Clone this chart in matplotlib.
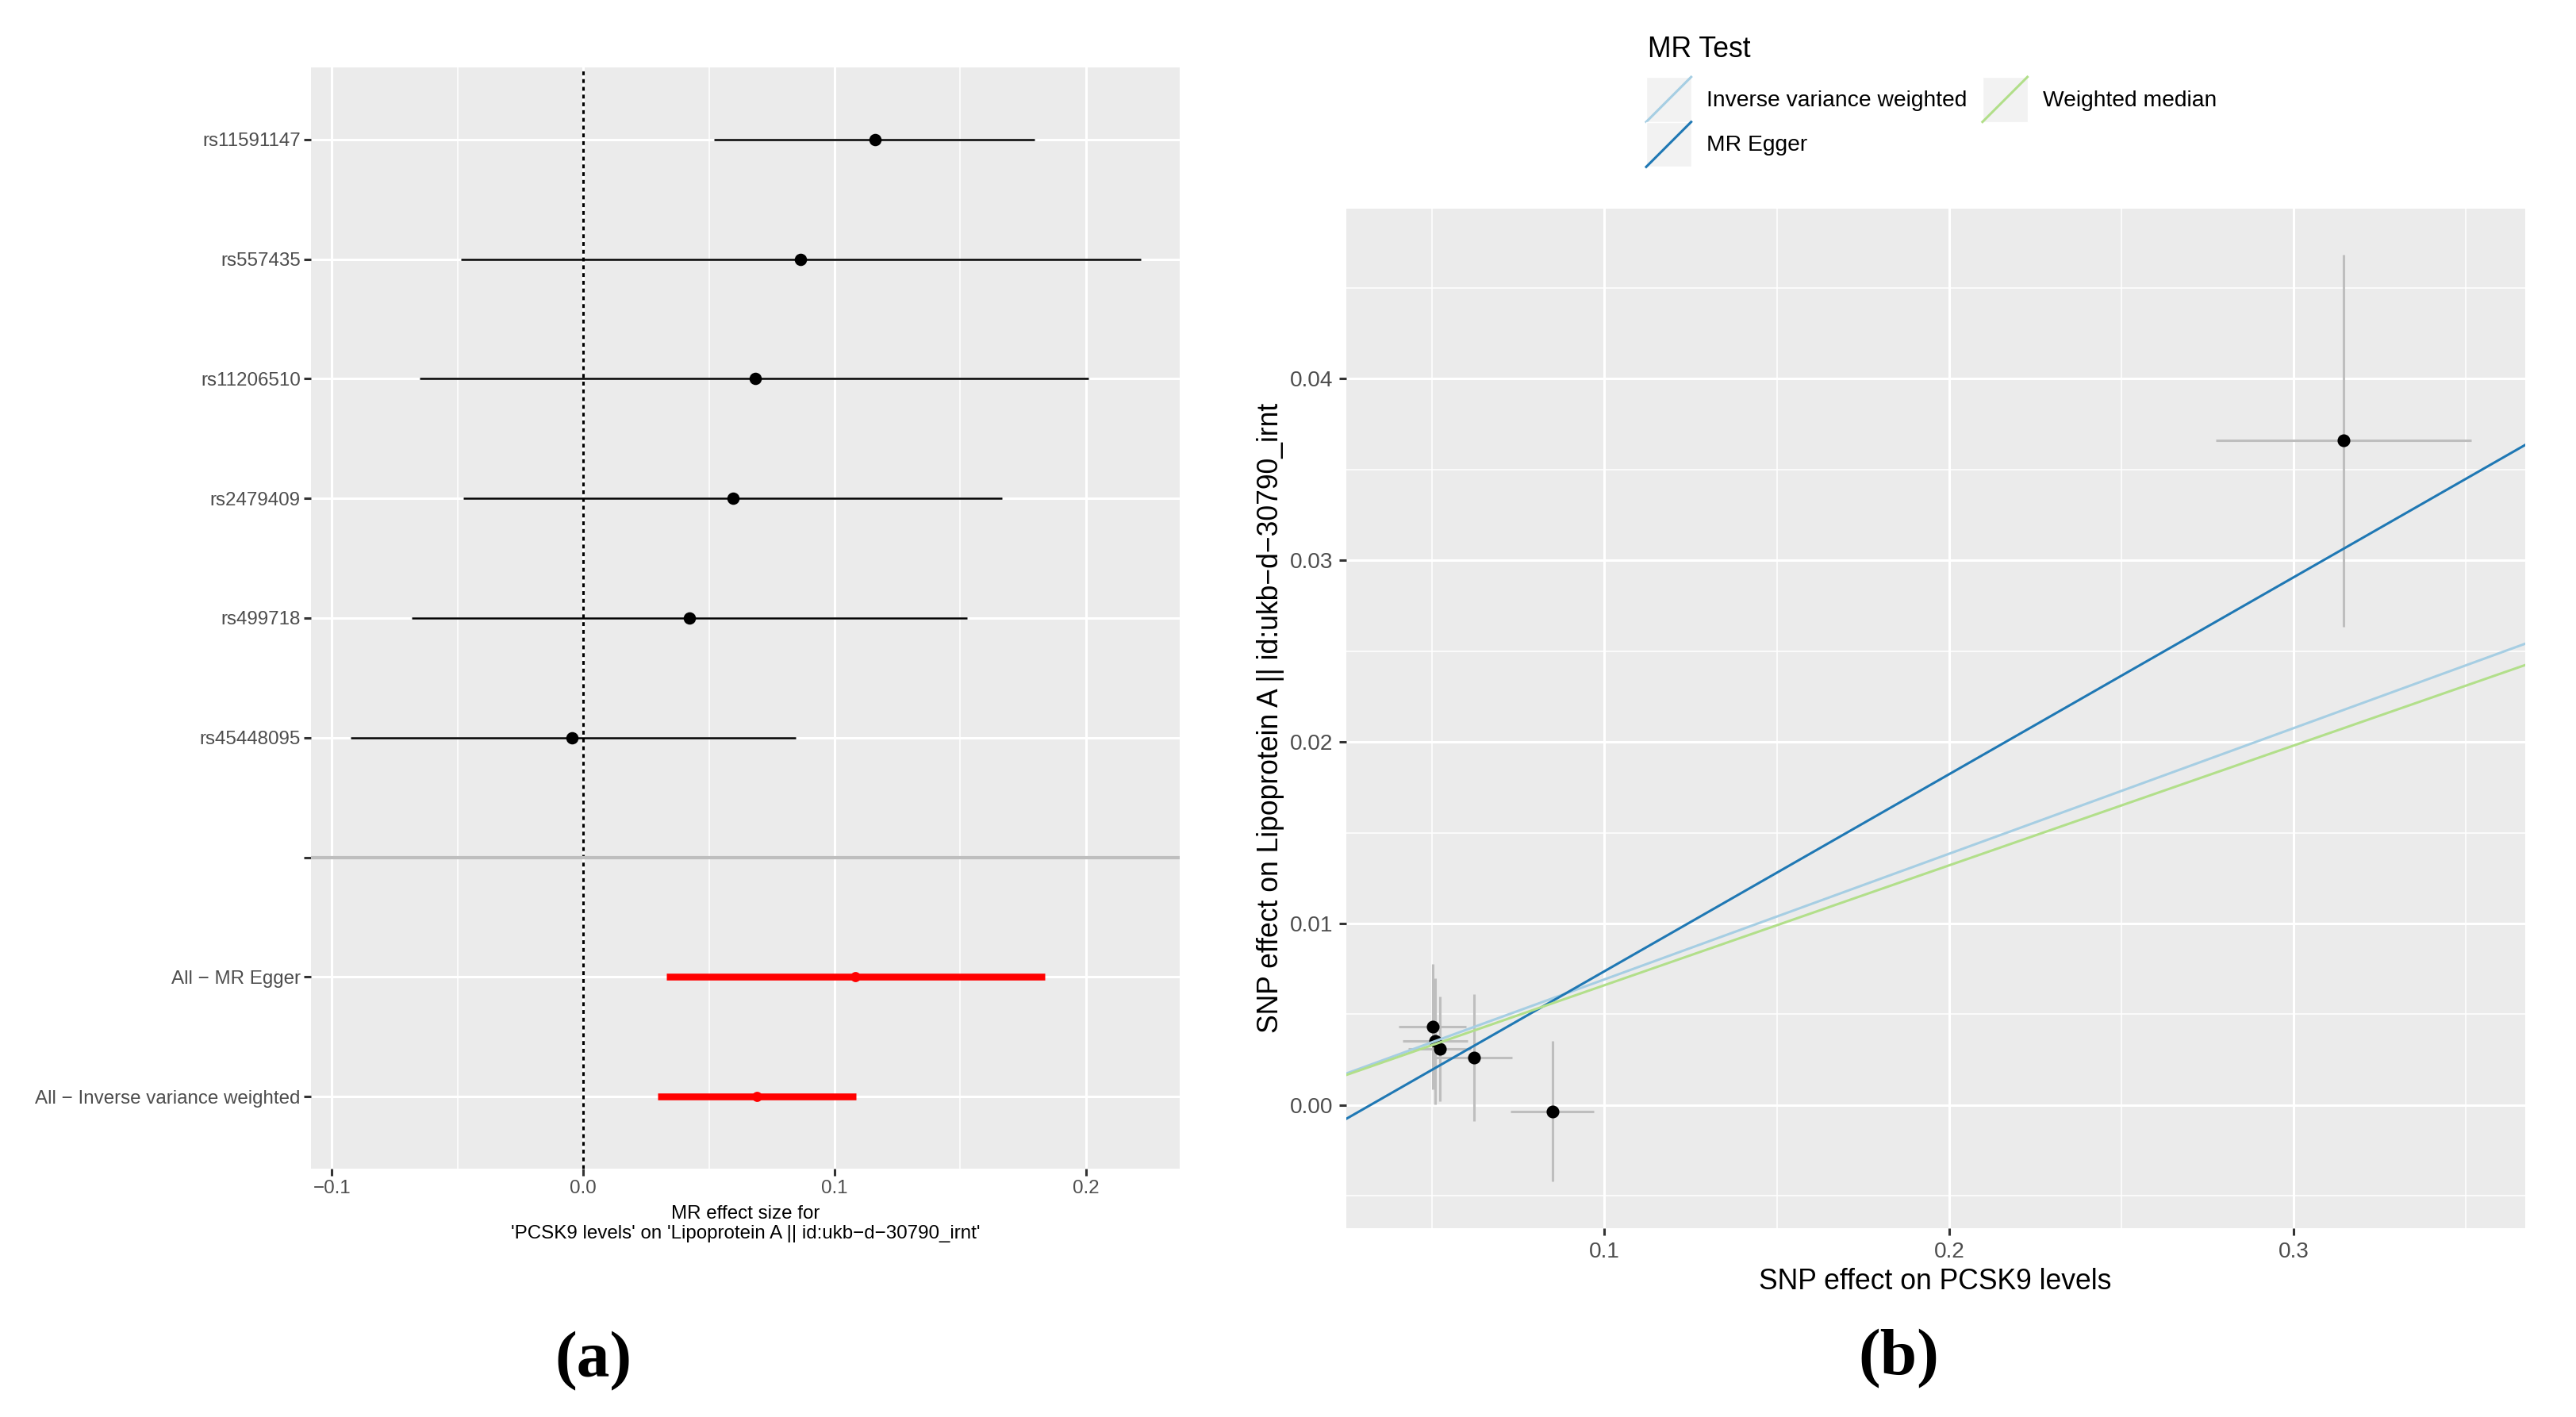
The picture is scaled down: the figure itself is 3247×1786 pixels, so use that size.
import matplotlib
matplotlib.use("Agg")
import matplotlib.pyplot as plt
from matplotlib.lines import Line2D
from matplotlib.patches import Rectangle
from matplotlib.legend_handler import HandlerBase

plt.rcParams['font.family'] = ['Liberation Sans', 'DejaVu Sans']

# (a) forest plot: single SNP ratio estimates and pooled estimates
snps = ['rs11591147', 'rs557435', 'rs11206510', 'rs2479409', 'rs499718', 'rs45448095']
snp_b = [0.1162, 0.0866, 0.0683, 0.0595, 0.0424, -0.0043]
snp_lo = [0.0521, -0.0485, -0.0649, -0.0476, -0.0683, -0.0924]
snp_hi = [0.1796, 0.2220, 0.2009, 0.1665, 0.1527, 0.0845]
methods = ['All \u2212 MR Egger', 'All \u2212 Inverse variance weighted']
method_b = [0.1082, 0.0692]
method_lo = [0.0332, 0.0296]
method_hi = [0.1838, 0.1085]

# (b) scatter plot: SNP effects on exposure and outcome
beta_exp = [0.3145, 0.0501, 0.0509, 0.0522, 0.0622, 0.0849]
se_exp = [0.0371, 0.0098, 0.0095, 0.0091, 0.0110, 0.0121]
beta_out = [0.0366, 0.00432, 0.00351, 0.00309, 0.00261, -0.00034]
se_out = [0.01025, 0.00346, 0.00349, 0.00288, 0.0035, 0.00385]
line_names = ['Inverse variance weighted', 'MR Egger', 'Weighted median']
line_slope = [0.0692, 0.1085, 0.0660]
line_icept = [0.0, -0.00348, 0.0]
line_colors = ['#A6CEE3', '#1F78B4', '#B2DF8A']

PANEL = '#EBEBEB'
TICK_TXT = '#4D4D4D'
TICK_COL = '#333333'


class AblineKey(HandlerBase):
    # grey key box with a diagonal line, like ggplot's abline key
    def create_artists(self, legend, orig_handle, xdescent, ydescent,
                       width, height, fontsize, trans):
        bg = Rectangle((-xdescent, -ydescent), width, height,
                       facecolor='#F2F2F2', edgecolor='white', lw=0.5,
                       transform=trans)
        ln = Line2D([-xdescent, -xdescent + width],
                    [-ydescent, -ydescent + height],
                    color=orig_handle.get_color(),
                    lw=orig_handle.get_linewidth(), transform=trans)
        return [bg, ln]


def style_axes(ax, tick_size, tick_len, pad):
    ax.set_facecolor(PANEL)
    for s in ax.spines.values():
        s.set_visible(False)
    ax.grid(which='major', color='white', lw=1.1)
    ax.grid(which='minor', color='white', lw=0.55)
    ax.set_axisbelow(True)
    ax.tick_params(which='major', length=tick_len, width=1.1, color=TICK_COL,
                   labelcolor=TICK_TXT, labelsize=tick_size, pad=pad)
    ax.tick_params(which='minor', length=0)


fig = plt.figure(figsize=(16.24, 8.93), dpi=200)

# ---------- (a) ----------
ax1 = fig.add_axes([0.12078, 0.17542, 0.33693, 0.77682])
style_axes(ax1, 8.7, 3.1, 1.8)
rows_snp = list(range(len(snps)))
rows_met = [len(snps) + 1 + i for i in range(len(methods))]
ax1.axvline(0, color='black', lw=1.1, ls=(0, (1.6, 1.6)), zorder=2)
ax1.axhline(len(snps), color='#BEBEBE', lw=1.5, zorder=2)
ax1.hlines(rows_snp, snp_lo, snp_hi, color='black', lw=0.9, zorder=3)
ax1.plot(snp_b, rows_snp, 'o', color='black', ms=4.6, zorder=4)
ax1.hlines(rows_met, method_lo, method_hi, color='red', lw=3.1, zorder=3)
ax1.plot(method_b, rows_met, 'o', color='red', ms=3.6, zorder=4)
ax1.set_yticks(rows_snp + [len(snps)] + rows_met)
ax1.set_yticklabels(snps + [''] + methods)
ax1.set_ylim(len(snps) + len(methods) + 0.6, -0.6)
ax1.set_xticks([-0.1, 0.0, 0.1, 0.2])
ax1.set_xticklabels(['\u22120.1', '0.0', '0.1', '0.2'])
ax1.set_xticks([-0.05, 0.05, 0.15], minor=True)
ax1.set_xlim(-0.1082, 0.2372)
ax1.tick_params(axis='x', pad=2.2)
ax1.set_xlabel("MR effect size for\n'PCSK9 levels' on 'Lipoprotein A || id:ukb\u2212d\u221230790_irnt'",
               fontsize=8.7, linespacing=1.2)
ax1.xaxis.set_label_coords(0.5, -0.0334)

# ---------- (b) ----------
ax2 = fig.add_axes([0.52238, 0.13343, 0.45751, 0.71932])
style_axes(ax2, 10.1, 3.4, 2.6)
ax2.errorbar(beta_exp, beta_out, xerr=se_exp, yerr=se_out, fmt='none',
             ecolor='#BEBEBE', elinewidth=1.1, capsize=0, zorder=2)
ax2.plot(beta_exp, beta_out, 'o', color='black', ms=4.8, zorder=3)
handles = []
for name, b, a, c in zip(line_names, line_slope, line_icept, line_colors):
    ax2.axline((0, a), slope=b, color=c, lw=1.1, zorder=4)
    handles.append(Line2D([], [], color=c, lw=1.1, label=name))
ax2.set_xlim(0.0250, 0.3671)
ax2.set_ylim(-0.00677, 0.04937)
ax2.set_xticks([0.1, 0.2, 0.3])
ax2.set_xticklabels(['0.1', '0.2', '0.3'])
ax2.set_xticks([0.05, 0.15, 0.25, 0.35], minor=True)
ax2.set_yticks([0.0, 0.01, 0.02, 0.03, 0.04])
ax2.set_yticklabels(['0.00', '0.01', '0.02', '0.03', '0.04'])
ax2.set_yticks([-0.005, 0.005, 0.015, 0.025, 0.035, 0.045], minor=True)
ax2.tick_params(axis='x', pad=2.9)
ax2.set_xlabel('SNP effect on PCSK9 levels', fontsize=12.8)
ax2.xaxis.set_label_coords(0.5, -0.039)
ax2.set_ylabel('SNP effect on Lipoprotein A || id:ukb\u2212d\u221230790_irnt', fontsize=12.8)
ax2.yaxis.set_label_coords(-0.0523, 0.5)

# legend on top
fig.text(2077 / 3248, 1 - 62.7 / 1786, 'MR Test', fontsize=12.8, va='center', ha='left')
fig.legend(handles=handles, ncol=2, loc='upper left',
           bbox_to_anchor=(2075 / 3248, 1 - 97 / 1786), frameon=False,
           fontsize=10.2, borderpad=0, borderaxespad=0, labelspacing=0,
           handlelength=2.0, handleheight=2.7, handletextpad=0.67,
           columnspacing=0.7, handler_map={Line2D: AblineKey()})

# panel letters
fig.text(748 / 3248, 1 - 1716 / 1786, '(a)', ha='center', va='center',
         family=['Liberation Serif', 'DejaVu Serif'], weight='bold', fontsize=30)
fig.text(2393 / 3248, 1 - 1713 / 1786, '(b)', ha='center', va='center',
         family=['Liberation Serif', 'DejaVu Serif'], weight='bold', fontsize=30)

fig.savefig('out.png', dpi=200, facecolor='white')
